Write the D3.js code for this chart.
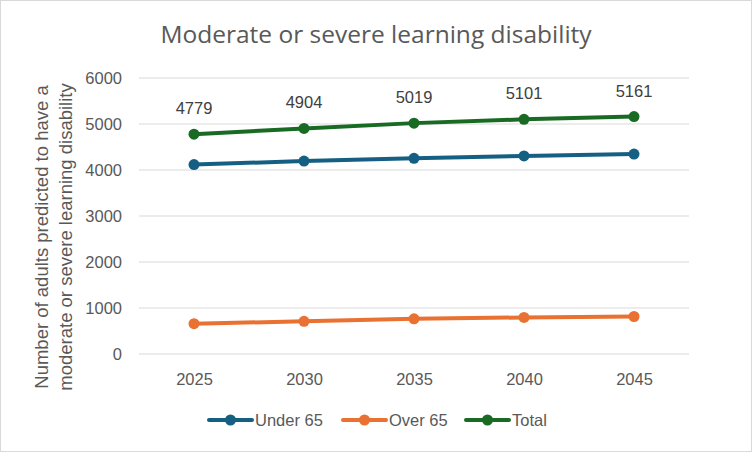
<!DOCTYPE html>
<html><head><meta charset="utf-8">
<script src="https://cdn.jsdelivr.net/npm/d3@7"></script>
<style>body{margin:0;background:#fff;font-family:Calibri,"Liberation Sans",Arial,sans-serif;}</style>
</head><body>
<svg id="c" width="752" height="452"></svg>
<script>
const years = ["2025","2030","2035","2040","2045"];
const under65 = [4119, 4194, 4254, 4306, 4346];
const over65 = [660, 710, 765, 795, 815];
const total = [4779, 4904, 5019, 5101, 5161];
const yTicks = [0,1000,2000,3000,4000,5000,6000];
const seriesNames = ["Under 65","Over 65","Total"];
const colors = ["#156082","#E97132","#196B24"];

const svg = d3.select("#c");
const W = 752, H = 452;
const FF = "'Liberation Sans',Arial,sans-serif";
svg.append("rect").attr("x",0.5).attr("y",0.5).attr("width",W-1).attr("height",H-1)
  .attr("fill","#fff").attr("stroke","#d9d9d9");

const m = {l:139, r:689, t:78, b:354};
const x = d3.scalePoint().domain(years).range([m.l, m.r]).padding(0.5);
const y = d3.scaleLinear().domain([0,6000]).range([m.b, m.t]);

svg.append("g").selectAll("line").data(yTicks).join("line")
  .attr("x1",m.l).attr("x2",m.r).attr("y1",d=>y(d)).attr("y2",d=>y(d))
  .attr("stroke","#d9d9d9").attr("stroke-width",1);

const yAxis = d3.axisLeft(y).tickValues(yTicks).tickSize(0).tickPadding(0).tickFormat(d3.format("d"));
const gy = svg.append("g").attr("transform",`translate(${m.l-17},0)`).call(yAxis);
gy.select(".domain").remove();
gy.selectAll("text").attr("font-size",16.5).attr("fill","#595959").attr("font-family",FF);

const xAxis = d3.axisBottom(x).tickSize(0).tickPadding(0);
const gx = svg.append("g").attr("transform",`translate(0,${m.b+19})`).call(xAxis);
gx.select(".domain").remove();
gx.selectAll("text").attr("font-size",16.5).attr("fill","#595959").attr("font-family",FF);

svg.append("text").attr("x",376).attr("y",43).attr("text-anchor","middle")
  .attr("font-size",24.5).attr("fill","#595959").attr("font-family","'Open Sans','Liberation Sans',sans-serif")
  .text("Moderate or severe learning disability");

const yt = svg.append("text").attr("transform","translate(0,237) rotate(-90)")
  .attr("text-anchor","middle").attr("font-size",18.5).attr("fill","#595959")
  .attr("font-family",FF);
yt.append("tspan").attr("x",0).attr("y",48).text("Number of adults predicted to have a");
yt.append("tspan").attr("x",0).attr("y",72).text("moderate or severe learning disability");

const data = [under65, over65, total];
const line = d3.line().x((d,i)=>x(years[i])).y(d=>y(d));
data.forEach((vals,k)=>{
  svg.append("path").datum(vals).attr("d",line).attr("fill","none")
    .attr("stroke",colors[k]).attr("stroke-width",4).attr("stroke-linecap","round");
  svg.append("g").selectAll("circle").data(vals).join("circle")
    .attr("cx",(d,i)=>x(years[i])).attr("cy",d=>y(d)).attr("r",5.5).attr("fill",colors[k]);
});

svg.append("g").selectAll("text").data(total).join("text")
  .attr("x",(d,i)=>x(years[i])).attr("y",d=>y(d)-20).attr("text-anchor","middle")
  .attr("font-size",16.5).attr("fill","#404040").attr("font-family",FF)
  .text(d=>d);

const legX = [209, 343, 466];
const lg = svg.append("g");
seriesNames.forEach((n,k)=>{
  const g = lg.append("g").attr("transform",`translate(${legX[k]},420)`);
  g.append("line").attr("x1",0).attr("x2",43).attr("y1",0).attr("y2",0)
    .attr("stroke",colors[k]).attr("stroke-width",4).attr("stroke-linecap","round");
  g.append("circle").attr("cx",21.5).attr("cy",0).attr("r",5.5).attr("fill",colors[k]);
  g.append("text").attr("x",46).attr("y",6).attr("font-size",16.5).attr("fill","#595959")
    .attr("font-family",FF).text(n);
});
</script>
</body></html>
